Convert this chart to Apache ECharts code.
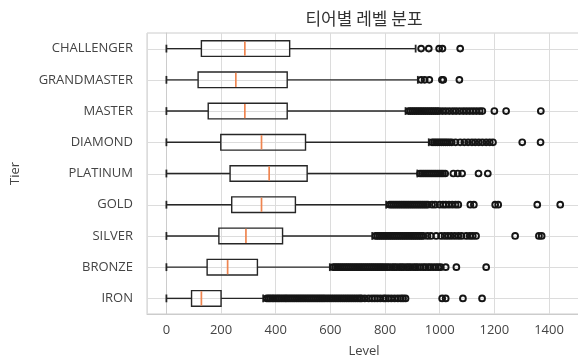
<!DOCTYPE html>
<html>
<head>
<meta charset="utf-8">
<script src="https://cdn.jsdelivr.net/npm/echarts@6/dist/echarts.min.js"></script>
<style>
  html, body { margin: 0; padding: 0; background: #ffffff; }
  #chart { width: 578px; height: 359px; }
</style>
</head>
<body>
<div id="chart"></div>
<script>
// Tiers, listed top to bottom
const tiers = ['CHALLENGER', 'GRANDMASTER', 'MASTER', 'DIAMOND', 'PLATINUM', 'GOLD', 'SILVER', 'BRONZE', 'IRON'];

// Five-number summaries per tier (whisker low, Q1, median, Q3, whisker high)
const whiskerLow  = [0, 0, 0, 0, 0, 0, 0, 0, 0];
const quartile1   = [128, 116, 153, 199, 233, 239, 192, 149, 92];
const medians     = [287, 254, 287, 348, 376, 348, 291, 224, 128];
const quartile3   = [451, 442, 442, 509, 515, 472, 425, 333, 200];
const whiskerHigh = [912, 920, 875, 960, 918, 804, 753, 598, 354];

// Outlying levels per tier
const fliersChallenger = [932, 960, 998, 1010, 1075];
const fliersGrandmaster = [932, 945, 962, 1008, 1013, 1072];
const fliersMaster = [886, 893, 900, 907, 914, 921, 928, 935, 942, 949, 956, 963, 970, 977, 984, 991, 998,
  1010, 1022, 1035, 1048, 1060, 1073, 1086, 1098, 1110, 1122, 1134, 1146, 1156, 1200, 1243, 1370];
const fliersDiamond = [972, 979, 986, 993, 1000, 1007, 1014, 1021, 1028, 1036, 1044,
  1058, 1075, 1090, 1104, 1118, 1130, 1143, 1156, 1170, 1183, 1195, 1302, 1369];
const fliersPlatinum = [928, 935, 942, 949, 956, 963, 970, 977, 984, 991, 998, 1005, 1012, 1020,
  1050, 1066, 1082, 1142, 1176];
const fliersGold = [817, 824, 831, 838, 845, 852, 859, 866, 873, 880, 887, 894, 901, 908, 915, 922, 929, 936, 943, 950, 957,
  972, 983, 1000, 1012, 1022, 1034, 1046, 1058, 1068, 1112, 1125, 1203, 1214, 1357, 1441];
const fliersSilver = [765, 772, 779, 786, 793, 800, 807, 814, 821, 828, 835, 842, 849, 856, 863, 870, 877, 884, 891, 898,
  905, 912, 919, 926, 933, 940, 955, 968, 987, 1005, 1018, 1030, 1042, 1055, 1068, 1080, 1097, 1110, 1121, 1133,
  1276, 1363, 1373];
const fliersBronze = [610, 617, 624, 631, 638, 645, 652, 659, 666, 673, 680, 687, 694, 701, 708, 715, 722, 729, 736, 743,
  750, 757, 764, 771, 778, 785, 792, 800, 808, 816, 826, 834, 842, 852, 860, 868, 878, 886, 894, 904, 912, 920, 930,
  940, 948, 958, 966, 976, 986, 995, 1004, 1022, 1061, 1170];
const fliersIron = [367, 374, 380, 387, 393, 400, 407, 413, 420, 427, 434, 440, 447, 454, 461, 468, 475, 482, 489, 496,
  503, 510, 517, 524, 531, 538, 545, 552, 559, 566, 573, 580, 588, 596, 604, 612, 620, 628, 636, 644, 652, 660, 668,
  676, 684, 692, 700, 708, 714, 726, 740, 752, 762, 772, 783, 795, 802, 812, 823, 835, 847, 858, 866, 875,
  1009, 1022, 1085, 1155];

const fliers = [fliersChallenger, fliersGrandmaster, fliersMaster, fliersDiamond, fliersPlatinum,
  fliersGold, fliersSilver, fliersBronze, fliersIron];

// X axis tick values
const levelTicks = [0, 200, 400, 600, 800, 1000, 1200, 1400];

const ink = '#262626';
const medianColor = '#ef8550';
const gridColor = '#dcdcdc';
const frameColor = '#cccccc';
const textColor = '#444444';
const labelFont = '"Open Sans", "Noto Sans CJK KR", sans-serif';

const boxData = tiers.map((t, i) => [i, whiskerLow[i], quartile1[i], medians[i], quartile3[i], whiskerHigh[i]]);
const flierData = [];
fliers.forEach((list, i) => list.forEach(v => flierData.push([v, i])));

const chart = echarts.init(document.getElementById('chart'), null, { renderer: 'canvas' });

chart.setOption({
  animation: false,
  backgroundColor: '#ffffff',
  title: {
    text: '티어별 레벨 분포',
    left: 364,
    top: 10,
    padding: 0,
    textAlign: 'center',
    textStyle: { fontFamily: '"Noto Sans CJK KR", sans-serif', fontSize: 17, fontWeight: 'normal', color: '#333333' }
  },
  grid: {
    left: 147, top: 33, width: 434, height: 281,
    show: true, borderColor: frameColor, borderWidth: 1, backgroundColor: 'transparent',
    containLabel: false,
    outerBoundsMode: 'none'
  },
  xAxis: {
    type: 'value',
    min: -71, max: 1517,
    splitNumber: 8, minInterval: 200, maxInterval: 200,
    name: 'Level', nameLocation: 'middle', nameGap: 31,
    nameTextStyle: { fontFamily: labelFont, fontSize: 13, color: textColor },
    axisLine: { show: true, lineStyle: { color: frameColor, width: 1 } },
    axisTick: { show: false },
    axisLabel: {
      fontFamily: labelFont, fontSize: 13, color: textColor, margin: 10,
      showMinLabel: false, showMaxLabel: false,
      formatter: v => (levelTicks.indexOf(v) >= 0 ? String(v) : '')
    },
    splitLine: { show: true, lineStyle: { color: gridColor, width: 1 } }
  },
  yAxis: {
    type: 'category',
    data: tiers,
    inverse: true,
    name: 'Tier', nameLocation: 'middle', nameGap: 125, nameRotate: 90,
    nameTextStyle: { fontFamily: labelFont, fontSize: 13, color: textColor },
    axisLine: { show: true, lineStyle: { color: frameColor, width: 1 } },
    axisTick: { show: false },
    axisLabel: { fontFamily: labelFont, fontSize: 13, color: textColor, margin: 14 },
    splitLine: { show: false }
  },
  series: [
    {
      // horizontal grid lines through each tier's row
      type: 'custom',
      z: 1,
      silent: true,
      data: tiers.map((t, i) => [0, i]),
      encode: { x: 0, y: 1 },
      renderItem: (params, api) => {
        const cs = params.coordSys;
        const y = Math.round(api.coord([0, api.value(1)])[1]) + 0.5;
        return {
          type: 'line',
          shape: { x1: cs.x, y1: y, x2: cs.x + cs.width, y2: y },
          style: { stroke: gridColor, lineWidth: 1 }
        };
      }
    },
    {
      // box, whiskers, caps and median per tier
      type: 'custom',
      z: 2,
      data: boxData,
      encode: { x: [1, 2, 3, 4, 5], y: 0 },
      renderItem: (params, api) => {
        const idx = api.value(0);
        const pt = d => api.coord([api.value(d), idx]);
        const lo = pt(1), q1 = pt(2), md = pt(3), q3 = pt(4), hi = pt(5);
        const band = api.size([0, 1])[1];
        const h = band * 0.5;
        const cap = h / 2;
        const y = lo[1];
        const seg = (x1, y1, x2, y2, stroke, w) => ({
          type: 'line', shape: { x1, y1, x2, y2 }, style: { stroke, lineWidth: w || 1.4 }
        });
        return {
          type: 'group',
          children: [
            seg(lo[0], y, q1[0], y, ink),
            seg(q3[0], y, hi[0], y, ink),
            seg(lo[0], y - cap / 2, lo[0], y + cap / 2, ink, 1.8),
            seg(hi[0], y - cap / 2, hi[0], y + cap / 2, ink, 1.8),
            {
              type: 'rect',
              shape: { x: q1[0], y: y - h / 2, width: q3[0] - q1[0], height: h },
              style: { fill: 'none', stroke: ink, lineWidth: 1.4 }
            },
            seg(md[0], y - h / 2 + 0.7, md[0], y + h / 2 - 0.7, medianColor, 1.7)
          ]
        };
      }
    },
    {
      type: 'scatter',
      z: 3,
      data: flierData,
      symbol: 'circle',
      symbolSize: 5.8,
      itemStyle: { color: 'rgba(0,0,0,0)', borderColor: '#151515', borderWidth: 1.9, opacity: 1 },
      emphasis: { disabled: true }
    }
  ]
});
</script>
</body>
</html>
